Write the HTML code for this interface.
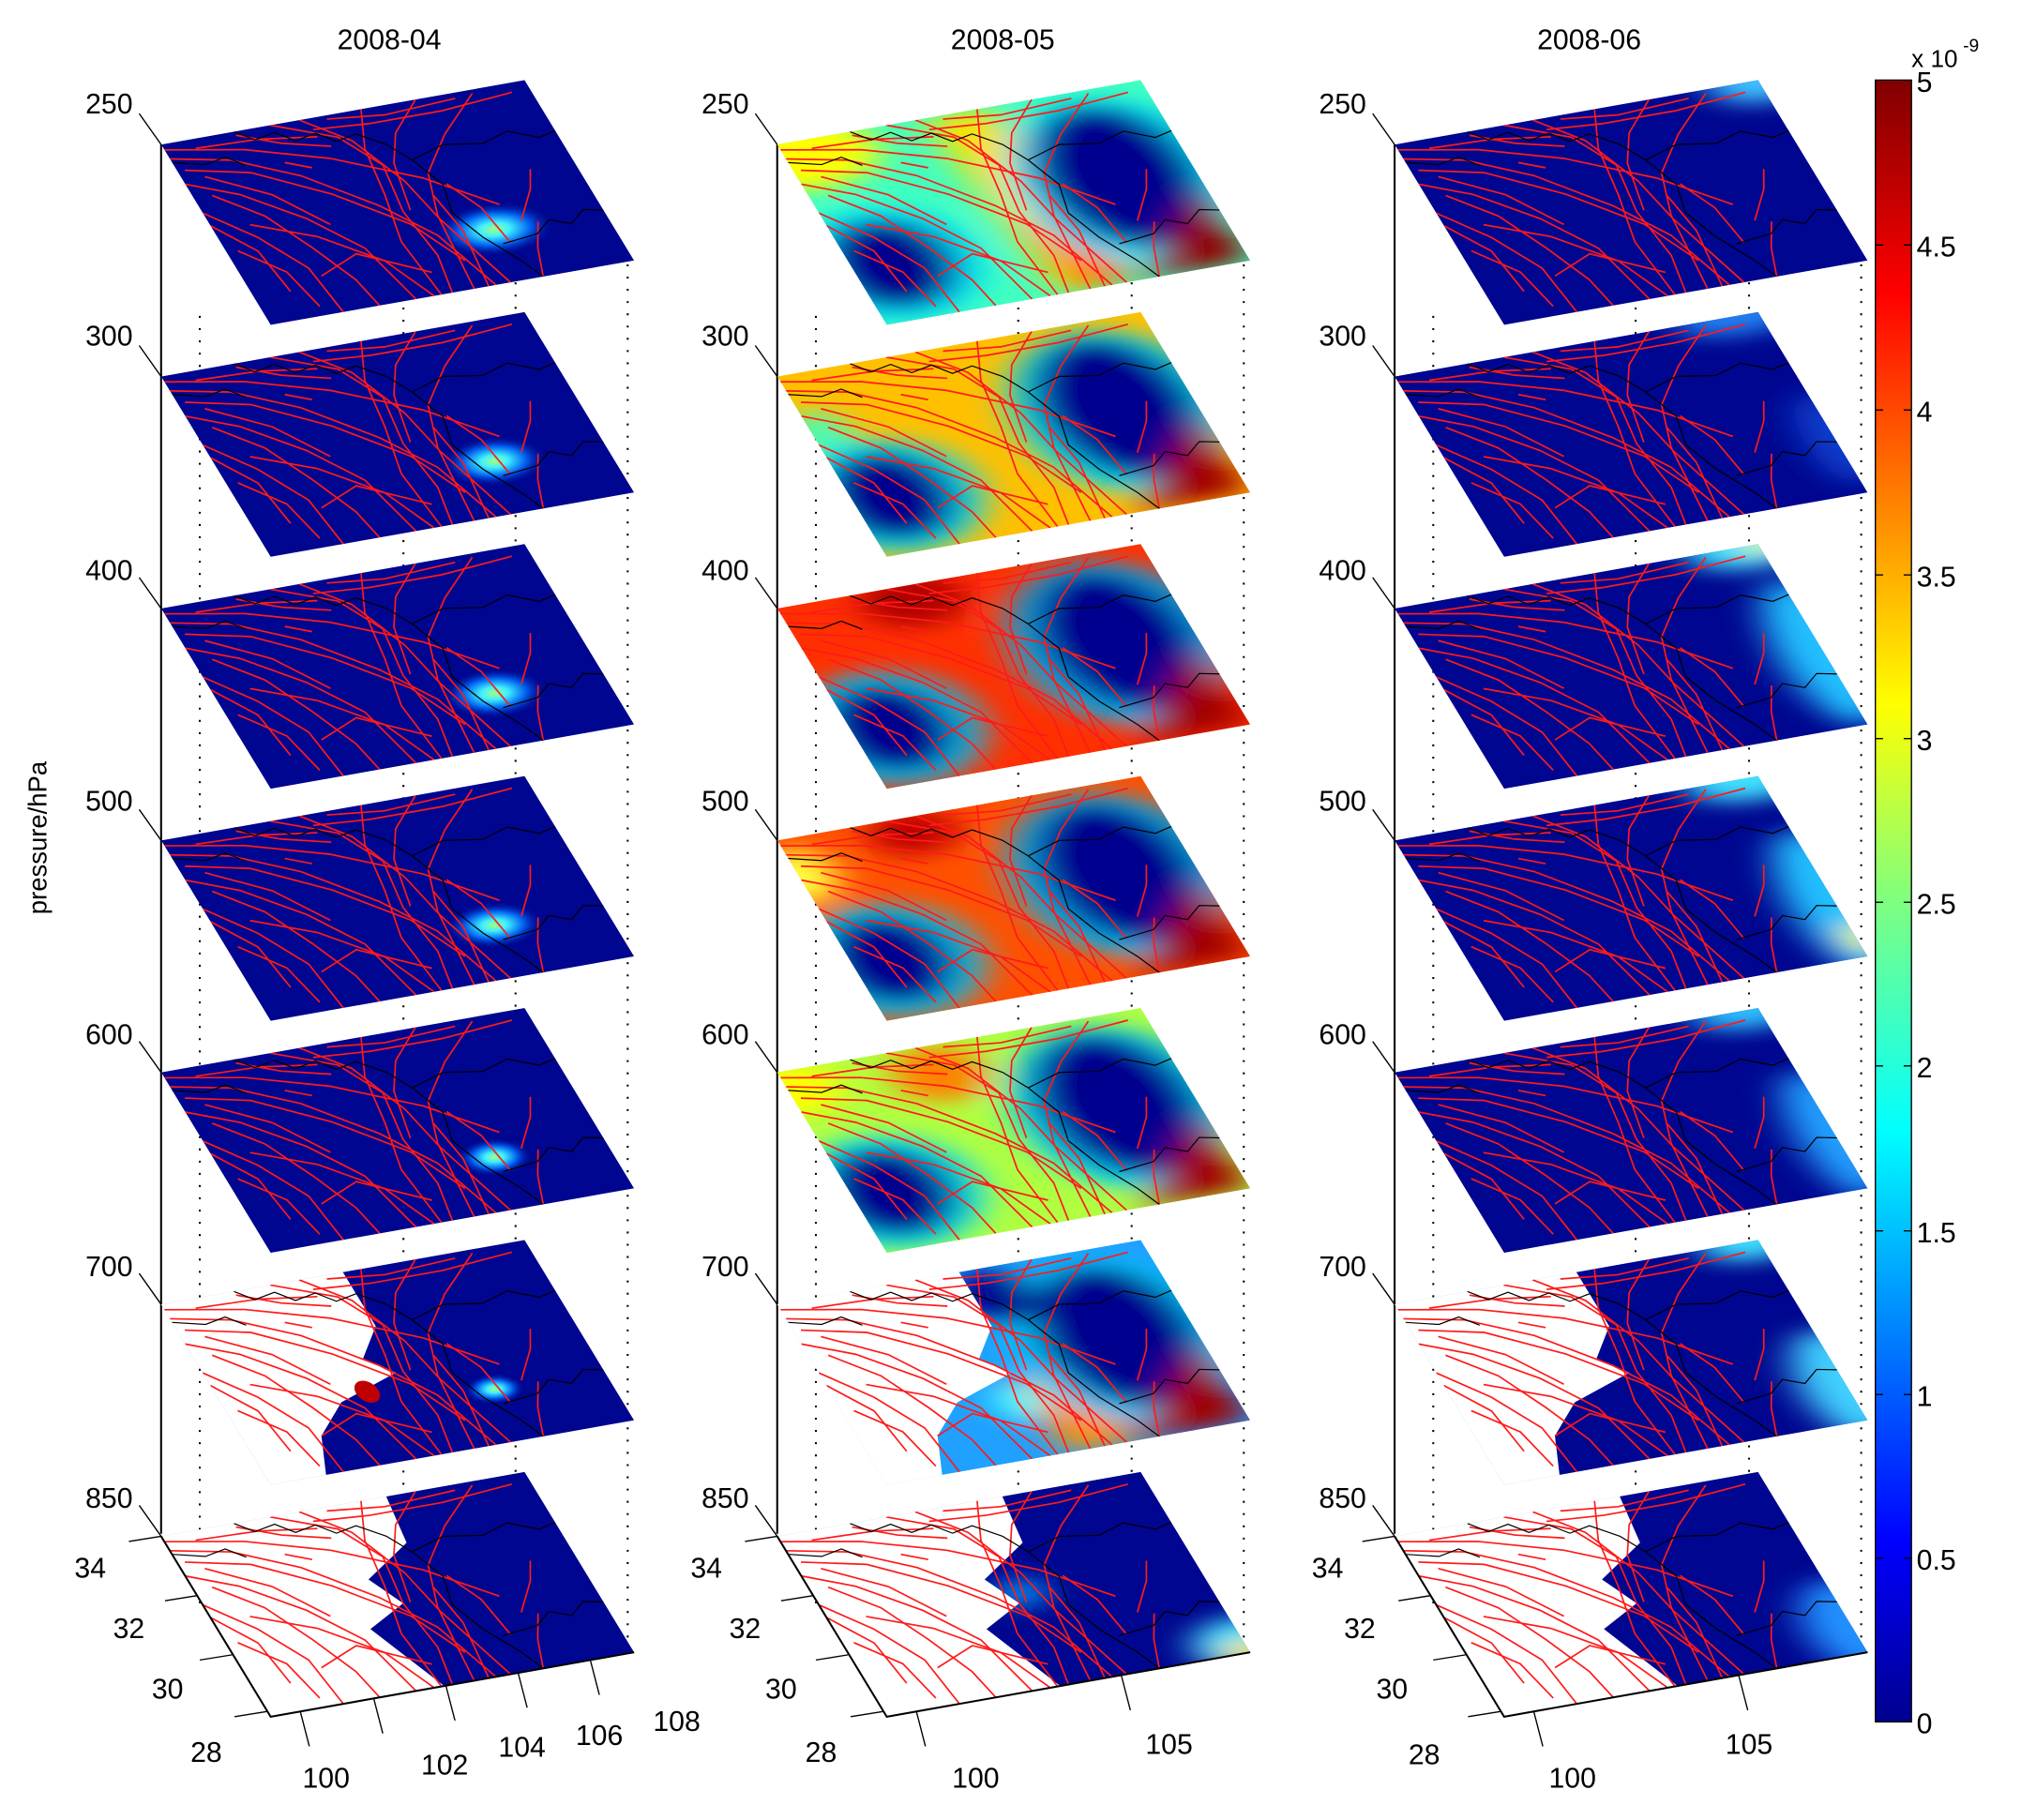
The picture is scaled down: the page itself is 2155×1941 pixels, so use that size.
<!DOCTYPE html>
<html><head><meta charset="utf-8"><style>
html,body{margin:0;padding:0;background:#fff;}
svg{display:block;}
text{font-family:"Liberation Sans",sans-serif;fill:#000;}
</style></head><body>
<svg width="2155" height="1941" viewBox="0 0 1568 1412" xmlns="http://www.w3.org/2000/svg">
<defs>
<linearGradient id="jet" x1="0" y1="1" x2="0" y2="0">
<stop offset="0" stop-color="#00008f"/><stop offset="0.11" stop-color="#0000ff"/>
<stop offset="0.36" stop-color="#00ffff"/><stop offset="0.5" stop-color="#7fff80"/>
<stop offset="0.62" stop-color="#ffff00"/><stop offset="0.87" stop-color="#ff0000"/>
<stop offset="1" stop-color="#800000"/></linearGradient>
<radialGradient id="spot"><stop offset="0" stop-color="#a0ff80"/><stop offset="0.25" stop-color="#40f0ff"/><stop offset="0.6" stop-color="#0060f0"/><stop offset="1" stop-color="#00068f" stop-opacity="0"/></radialGradient>
<clipPath id="sq"><rect x="0" y="0" width="100" height="100"/></clipPath>
<filter id="bl" x="-50%" y="-50%" width="200%" height="200%"><feGaussianBlur stdDeviation="5"/></filter>
<g id="faults" fill="none" stroke="#ff1a1a" stroke-width="1.7">
<polyline vector-effect="non-scaling-stroke" points="0,3 20,10 40,22 60,40 75,60"/>
<polyline vector-effect="non-scaling-stroke" points="0,8 15,14 30,28 45,50 55,70 62,100"/>
<polyline vector-effect="non-scaling-stroke" points="2,15 18,22 35,40 50,62 58,85"/>
<polyline vector-effect="non-scaling-stroke" points="0,22 12,32 25,50 35,70 40,100"/>
<polyline vector-effect="non-scaling-stroke" points="5,30 15,45 22,65 28,85 30,100"/>
<polyline vector-effect="non-scaling-stroke" points="0,38 10,55 18,75 20,100"/>
<polyline vector-effect="non-scaling-stroke" points="8,5 25,6 40,10"/>
<polyline vector-effect="non-scaling-stroke" points="10,48 25,60 38,78 45,100"/>
<polyline vector-effect="non-scaling-stroke" points="3,60 12,75 15,95"/>
<polyline vector-effect="non-scaling-stroke" points="20,80 32,72 48,88"/>
<polyline vector-effect="non-scaling-stroke" points="30,0 45,12 52,30 50,55 52,80 50,100"/>
<polyline vector-effect="non-scaling-stroke" points="38,0 48,15 55,40 58,62 66,100"/>
<polyline vector-effect="non-scaling-stroke" points="55,0 50,20 48,45 45,70 47,100"/>
<polyline vector-effect="non-scaling-stroke" points="70,0 60,15 55,30 52,55"/>
<polyline vector-effect="non-scaling-stroke" points="85,2 72,20 62,38 58,60 56,100"/>
<polyline vector-effect="non-scaling-stroke" points="45,2 60,5 80,3"/>
<polyline vector-effect="non-scaling-stroke" points="40,6 55,8 75,8 95,5"/>
<polyline vector-effect="non-scaling-stroke" points="60,50 62,70 60,100"/>
<polyline vector-effect="non-scaling-stroke" points="65,45 70,60 72,80"/>
<polyline vector-effect="non-scaling-stroke" points="78,70 85,55 88,45"/>
<polyline vector-effect="non-scaling-stroke" points="75,100 78,85 82,72"/>
<polyline vector-effect="non-scaling-stroke" points="28,20 34,25"/>
<polyline vector-effect="non-scaling-stroke" points="20,2 30,10 42,16"/>
<polyline vector-effect="non-scaling-stroke" points="0,45 8,62 10,85"/>
<polyline vector-effect="non-scaling-stroke" points="6,20 20,35 30,55"/>
</g>
<g id="borders" fill="none" stroke="#000" stroke-width="1.2">
<polyline vector-effect="non-scaling-stroke" points="20,0 24,6 30,4 34,10 40,8 44,14 50,12 56,20 60,30 64,45 62,60 66,75 72,90 75,100"/>
<polyline vector-effect="non-scaling-stroke" points="60,30 70,25 80,28 88,24 95,30 100,28"/>
<polyline vector-effect="non-scaling-stroke" points="70,80 80,78 85,72 90,76 95,70 100,72"/>
<polyline vector-effect="non-scaling-stroke" points="0,10 8,14 14,12 18,18"/>
</g>
<g id="w700"><polygon fill="#fff" points="-1,-1 50,-1 50,30 42,45 48,55 30,65 20,80 15,101 -1,101"/></g>
<g id="w850"><polygon fill="#fff" points="-1,-1 62,-1 60,25 45,40 50,55 38,65 48,101 -1,101"/></g>
</defs>

<text x="302" y="38" font-size="22" text-anchor="middle">2008-04</text>
<text x="778" y="38" font-size="22" text-anchor="middle">2008-05</text>
<text x="1233" y="38" font-size="22" text-anchor="middle">2008-06</text>
<text transform="translate(36,650) rotate(-90)" font-size="20" text-anchor="middle">pressure/hPa</text>

<g stroke="#000" fill="none">
<line x1="125" y1="112" x2="125" y2="1190" stroke-width="1.5"/>
<line x1="603" y1="112" x2="603" y2="1190" stroke-width="1.5"/>
<line x1="1082" y1="112" x2="1082" y2="1190" stroke-width="1.5"/>
<g stroke-dasharray="1.5 8" stroke-width="1.5">
<line x1="155" y1="245" x2="155" y2="1250"/><line x1="313" y1="210" x2="313" y2="1280"/><line x1="400" y1="200" x2="400" y2="1290"/><line x1="487" y1="205" x2="487" y2="1282"/>
<line x1="633" y1="245" x2="633" y2="1250"/><line x1="790" y1="210" x2="790" y2="1280"/><line x1="878" y1="200" x2="878" y2="1290"/><line x1="965" y1="205" x2="965" y2="1282"/>
<line x1="1112" y1="245" x2="1112" y2="1250"/><line x1="1269" y1="210" x2="1269" y2="1280"/><line x1="1357" y1="200" x2="1357" y2="1290"/><line x1="1444" y1="205" x2="1444" y2="1282"/>
</g></g>

<g font-size="22" text-anchor="end">
<text x="103" y="88">250</text><text x="103" y="268">300</text><text x="103" y="450">400</text><text x="103" y="629">500</text><text x="103" y="810">600</text><text x="103" y="990">700</text><text x="103" y="1170">850</text>
<text x="581" y="88">250</text><text x="581" y="268">300</text><text x="581" y="450">400</text><text x="581" y="629">500</text><text x="581" y="810">600</text><text x="581" y="990">700</text><text x="581" y="1170">850</text>
<text x="1060" y="88">250</text><text x="1060" y="268">300</text><text x="1060" y="450">400</text><text x="1060" y="629">500</text><text x="1060" y="810">600</text><text x="1060" y="990">700</text><text x="1060" y="1170">850</text>
</g>
<g stroke="#000" stroke-width="1">
<line x1="108" y1="88" x2="125" y2="112"/><line x1="108" y1="268" x2="125" y2="292"/><line x1="108" y1="448" x2="125" y2="472"/><line x1="108" y1="628" x2="125" y2="652"/><line x1="108" y1="808" x2="125" y2="832"/><line x1="108" y1="988" x2="125" y2="1012"/><line x1="108" y1="1168" x2="125" y2="1192"/>
<line x1="586" y1="88" x2="603" y2="112"/><line x1="586" y1="268" x2="603" y2="292"/><line x1="586" y1="448" x2="603" y2="472"/><line x1="586" y1="628" x2="603" y2="652"/><line x1="586" y1="808" x2="603" y2="832"/><line x1="586" y1="988" x2="603" y2="1012"/><line x1="586" y1="1168" x2="603" y2="1192"/>
<line x1="1065" y1="88" x2="1082" y2="112"/><line x1="1065" y1="268" x2="1082" y2="292"/><line x1="1065" y1="448" x2="1082" y2="472"/><line x1="1065" y1="628" x2="1082" y2="652"/><line x1="1065" y1="808" x2="1082" y2="832"/><line x1="1065" y1="988" x2="1082" y2="1012"/><line x1="1065" y1="1168" x2="1082" y2="1192"/>
</g>

<!-- COLUMN 1 -->
<g transform="matrix(2.82 -0.5 0.85 1.4 125 112)"><g clip-path="url(#sq)"><rect width="100" height="100" fill="#00068f"/><ellipse cx="70" cy="72" rx="16" ry="14" fill="url(#spot)"/><use href="#faults"/><use href="#borders"/></g></g>
<g transform="matrix(2.82 -0.5 0.85 1.4 125 292)"><g clip-path="url(#sq)"><rect width="100" height="100" fill="#00068f"/><ellipse cx="70" cy="72" rx="14" ry="13" fill="url(#spot)"/><use href="#faults"/><use href="#borders"/></g></g>
<g transform="matrix(2.82 -0.5 0.85 1.4 125 472)"><g clip-path="url(#sq)"><rect width="100" height="100" fill="#00068f"/><ellipse cx="70" cy="72" rx="14" ry="13" fill="url(#spot)"/><use href="#faults"/><use href="#borders"/></g></g>
<g transform="matrix(2.82 -0.5 0.85 1.4 125 652)"><g clip-path="url(#sq)"><rect width="100" height="100" fill="#00068f"/><ellipse cx="70" cy="72" rx="13" ry="12" fill="url(#spot)"/><use href="#faults"/><use href="#borders"/></g></g>
<g transform="matrix(2.82 -0.5 0.85 1.4 125 832)"><g clip-path="url(#sq)"><rect width="100" height="100" fill="#00068f"/><ellipse cx="70" cy="72" rx="10" ry="10" fill="url(#spot)"/><use href="#faults"/><use href="#borders"/></g></g>
<g transform="matrix(2.82 -0.5 0.85 1.4 125 1012)"><g clip-path="url(#sq)"><rect width="100" height="100" fill="#00068f"/><ellipse cx="70" cy="72" rx="8" ry="8" fill="url(#spot)"/><use href="#w700"/><ellipse cx="38" cy="62" rx="3" ry="6" fill="#c00000"/><use href="#faults"/><use href="#borders"/></g></g>
<g transform="matrix(2.82 -0.5 0.85 1.4 125 1192)"><g clip-path="url(#sq)"><rect width="100" height="100" fill="#00068f"/><use href="#w850"/><use href="#faults"/><use href="#borders"/></g></g>

<!-- COLUMN 2 -->
<g transform="matrix(2.82 -0.5 0.85 1.4 603 112)"><g clip-path="url(#sq)"><rect width="100" height="100" fill="#40ffc0"/>
<g filter="url(#bl)"><ellipse cx="5" cy="8" rx="20" ry="18" fill="#ffff00"/><polygon points="40,0 58,0 68,100 48,100" fill="#ffe000"/><polygon points="50,60 64,60 68,100 52,100" fill="#ff8000"/><ellipse cx="10" cy="70" rx="24" ry="30" fill="#00e0ff"/><ellipse cx="80" cy="48" rx="28" ry="44" fill="#00e0ff"/><ellipse cx="10" cy="70" rx="17" ry="24" fill="#00068f"/><ellipse cx="80" cy="46" rx="21" ry="38" fill="#00068f"/><polygon points="70,100 100,58 100,100" fill="#900000"/></g>
<use href="#faults"/><use href="#borders"/></g></g>
<g transform="matrix(2.82 -0.5 0.85 1.4 603 292)"><g clip-path="url(#sq)"><rect width="100" height="100" fill="#ffc000"/>
<g filter="url(#bl)"><ellipse cx="2" cy="35" rx="8" ry="15" fill="#40ffc0"/><ellipse cx="10" cy="70" rx="24" ry="30" fill="#00e0ff"/><ellipse cx="80" cy="48" rx="28" ry="44" fill="#00e0ff"/><ellipse cx="10" cy="70" rx="17" ry="24" fill="#00068f"/><ellipse cx="80" cy="46" rx="21" ry="38" fill="#00068f"/><polygon points="68,100 100,55 100,100" fill="#a00000"/></g>
<use href="#faults"/><use href="#borders"/></g></g>
<g transform="matrix(2.82 -0.5 0.85 1.4 603 472)"><g clip-path="url(#sq)"><rect width="100" height="100" fill="#ff3000"/>
<g filter="url(#bl)"><ellipse cx="35" cy="8" rx="14" ry="14" fill="#b00000"/><ellipse cx="10" cy="70" rx="24" ry="30" fill="#00d0ff"/><ellipse cx="80" cy="48" rx="28" ry="44" fill="#00c0ff"/><ellipse cx="10" cy="70" rx="17" ry="24" fill="#00068f"/><ellipse cx="80" cy="46" rx="21" ry="38" fill="#00068f"/><polygon points="68,100 100,55 100,100" fill="#a00000"/></g>
<use href="#faults"/><use href="#borders"/></g></g>
<g transform="matrix(2.82 -0.5 0.85 1.4 603 652)"><g clip-path="url(#sq)"><rect width="100" height="100" fill="#ff5000"/>
<g filter="url(#bl)"><ellipse cx="0" cy="20" rx="10" ry="15" fill="#ffff40"/><ellipse cx="35" cy="8" rx="12" ry="12" fill="#c00000"/><ellipse cx="10" cy="70" rx="24" ry="30" fill="#00d0ff"/><ellipse cx="80" cy="48" rx="28" ry="44" fill="#00c0ff"/><ellipse cx="10" cy="70" rx="17" ry="24" fill="#00068f"/><ellipse cx="80" cy="46" rx="21" ry="38" fill="#00068f"/><polygon points="68,100 100,55 100,100" fill="#a00000"/></g>
<use href="#faults"/><use href="#borders"/></g></g>
<g transform="matrix(2.82 -0.5 0.85 1.4 603 832)"><g clip-path="url(#sq)"><rect width="100" height="100" fill="#b0ff40"/>
<g filter="url(#bl)"><ellipse cx="0" cy="10" rx="14" ry="14" fill="#ffff00"/><ellipse cx="40" cy="15" rx="12" ry="15" fill="#ff8000"/><ellipse cx="10" cy="70" rx="24" ry="30" fill="#00e0ff"/><ellipse cx="80" cy="48" rx="28" ry="44" fill="#00d0ff"/><ellipse cx="10" cy="70" rx="17" ry="24" fill="#00068f"/><ellipse cx="80" cy="46" rx="21" ry="38" fill="#00068f"/><polygon points="70,100 100,58 100,100" fill="#a00000"/></g>
<use href="#faults"/><use href="#borders"/></g></g>
<g transform="matrix(2.82 -0.5 0.85 1.4 603 1012)"><g clip-path="url(#sq)"><rect width="100" height="100" fill="#20a0ff"/>
<g filter="url(#bl)"><polygon points="45,60 62,55 70,100 50,100" fill="#ff9000"/><ellipse cx="45" cy="70" rx="6" ry="10" fill="#40ffff"/><ellipse cx="80" cy="48" rx="28" ry="44" fill="#00d0ff"/><ellipse cx="80" cy="46" rx="21" ry="38" fill="#00068f"/><ellipse cx="55" cy="15" rx="10" ry="15" fill="#00068f"/><polygon points="68,100 100,55 100,100" fill="#a00000"/></g>
<use href="#w700"/><use href="#faults"/><use href="#borders"/></g></g>
<g transform="matrix(2.82 -0.5 0.85 1.4 603 1192)"><g clip-path="url(#sq)"><rect width="100" height="100" fill="#00068f"/>
<g filter="url(#bl)"><ellipse cx="52" cy="50" rx="6" ry="8" fill="#00a0ff"/><ellipse cx="100" cy="95" rx="14" ry="14" fill="#40e0ff"/><ellipse cx="100" cy="100" rx="7" ry="7" fill="#ffe000"/></g>
<use href="#w850"/><use href="#faults"/><use href="#borders"/></g></g>

<!-- COLUMN 3 -->
<g transform="matrix(2.82 -0.5 0.85 1.4 1082 112)"><g clip-path="url(#sq)"><rect width="100" height="100" fill="#00068f"/><g filter="url(#bl)"><ellipse cx="100" cy="0" rx="14" ry="12" fill="#40c0ff"/></g><use href="#faults"/><use href="#borders"/></g></g>
<g transform="matrix(2.82 -0.5 0.85 1.4 1082 292)"><g clip-path="url(#sq)"><rect width="100" height="100" fill="#00068f"/><g filter="url(#bl)"><ellipse cx="95" cy="0" rx="18" ry="10" fill="#2080f0"/><ellipse cx="100" cy="70" rx="8" ry="25" fill="#1040d0"/></g><use href="#faults"/><use href="#borders"/></g></g>
<g transform="matrix(2.82 -0.5 0.85 1.4 1082 472)"><g clip-path="url(#sq)"><rect width="100" height="100" fill="#00068f"/><g filter="url(#bl)"><ellipse cx="98" cy="0" rx="18" ry="12" fill="#40e0ff"/><ellipse cx="100" cy="60" rx="12" ry="40" fill="#20c0ff"/><ellipse cx="102" cy="0" rx="6" ry="5" fill="#ffff40"/></g><use href="#faults"/><use href="#borders"/></g></g>
<g transform="matrix(2.82 -0.5 0.85 1.4 1082 652)"><g clip-path="url(#sq)"><rect width="100" height="100" fill="#00068f"/><g filter="url(#bl)"><ellipse cx="98" cy="0" rx="18" ry="12" fill="#40e0ff"/><ellipse cx="100" cy="70" rx="12" ry="40" fill="#20c0ff"/><ellipse cx="102" cy="90" rx="5" ry="8" fill="#ffff40"/></g><use href="#faults"/><use href="#borders"/></g></g>
<g transform="matrix(2.82 -0.5 0.85 1.4 1082 832)"><g clip-path="url(#sq)"><rect width="100" height="100" fill="#00068f"/><g filter="url(#bl)"><ellipse cx="98" cy="0" rx="16" ry="10" fill="#30c0ff"/><ellipse cx="100" cy="70" rx="10" ry="35" fill="#20a0ff"/></g><use href="#faults"/><use href="#borders"/></g></g>
<g transform="matrix(2.82 -0.5 0.85 1.4 1082 1012)"><g clip-path="url(#sq)"><rect width="100" height="100" fill="#00068f"/><g filter="url(#bl)"><ellipse cx="98" cy="0" rx="14" ry="10" fill="#40e0ff"/><ellipse cx="100" cy="80" rx="12" ry="30" fill="#40d0ff"/></g><use href="#w700"/><use href="#faults"/><use href="#borders"/></g></g>
<g transform="matrix(2.82 -0.5 0.85 1.4 1082 1192)"><g clip-path="url(#sq)"><rect width="100" height="100" fill="#00068f"/><g filter="url(#bl)"><ellipse cx="100" cy="85" rx="12" ry="25" fill="#2090ff"/></g><use href="#w850"/><use href="#faults"/><use href="#borders"/></g></g>

<g stroke="#000" stroke-width="1.5" fill="none">
<polyline points="125,1192 210,1332 492,1282"/>
<polyline points="603,1192 688,1332 970,1282"/>
<polyline points="1082,1192 1167,1332 1449,1282"/>
</g>
<g stroke="#000" stroke-width="1">
<line x1="125" y1="1192" x2="100" y2="1196"/><line x1="153" y1="1238" x2="128" y2="1242"/><line x1="180" y1="1284" x2="155" y2="1288"/><line x1="207" y1="1328" x2="182" y2="1332"/>
<line x1="233" y1="1328" x2="240" y2="1355"/><line x1="290" y1="1318" x2="297" y2="1345"/><line x1="346" y1="1308" x2="353" y2="1335"/><line x1="402" y1="1298" x2="409" y2="1325"/><line x1="458" y1="1288" x2="465" y2="1315"/>
<line x1="603" y1="1192" x2="578" y2="1196"/><line x1="631" y1="1238" x2="606" y2="1242"/><line x1="658" y1="1284" x2="633" y2="1288"/><line x1="685" y1="1328" x2="660" y2="1332"/>
<line x1="711" y1="1328" x2="718" y2="1355"/><line x1="870" y1="1300" x2="877" y2="1327"/>
<line x1="1082" y1="1192" x2="1057" y2="1196"/><line x1="1110" y1="1238" x2="1085" y2="1242"/><line x1="1137" y1="1284" x2="1112" y2="1288"/><line x1="1164" y1="1328" x2="1139" y2="1332"/>
<line x1="1190" y1="1328" x2="1197" y2="1355"/><line x1="1349" y1="1300" x2="1356" y2="1327"/>
</g>
<g font-size="22" text-anchor="middle">
<text x="70" y="1224">34</text><text x="100" y="1271">32</text><text x="130" y="1318">30</text><text x="160" y="1367">28</text>
<text x="253" y="1387">100</text><text x="345" y="1377">102</text><text x="405" y="1363">104</text><text x="465" y="1354">106</text><text x="525" y="1343">108</text>
<text x="548" y="1224">34</text><text x="578" y="1271">32</text><text x="606" y="1318">30</text><text x="637" y="1367">28</text>
<text x="757" y="1387">100</text><text x="907" y="1361">105</text>
<text x="1030" y="1224">34</text><text x="1055" y="1271">32</text><text x="1080" y="1318">30</text><text x="1105" y="1369">28</text>
<text x="1220" y="1387">100</text><text x="1357" y="1361">105</text>
</g>

<rect x="1455" y="62" width="28" height="1274" fill="url(#jet)" stroke="#000" stroke-width="1"/>
<g stroke="#000" stroke-width="1">
<line x1="1455" y1="190" x2="1461" y2="190"/><line x1="1477" y1="190" x2="1483" y2="190"/>
<line x1="1455" y1="318" x2="1461" y2="318"/><line x1="1477" y1="318" x2="1483" y2="318"/>
<line x1="1455" y1="446" x2="1461" y2="446"/><line x1="1477" y1="446" x2="1483" y2="446"/>
<line x1="1455" y1="573" x2="1461" y2="573"/><line x1="1477" y1="573" x2="1483" y2="573"/>
<line x1="1455" y1="700" x2="1461" y2="700"/><line x1="1477" y1="700" x2="1483" y2="700"/>
<line x1="1455" y1="827" x2="1461" y2="827"/><line x1="1477" y1="827" x2="1483" y2="827"/>
<line x1="1455" y1="955" x2="1461" y2="955"/><line x1="1477" y1="955" x2="1483" y2="955"/>
<line x1="1455" y1="1082" x2="1461" y2="1082"/><line x1="1477" y1="1082" x2="1483" y2="1082"/>
<line x1="1455" y1="1209" x2="1461" y2="1209"/><line x1="1477" y1="1209" x2="1483" y2="1209"/>
</g>
<g font-size="22">
<text x="1487" y="71">5</text><text x="1487" y="199">4.5</text><text x="1487" y="327">4</text><text x="1487" y="455">3.5</text><text x="1487" y="582">3</text><text x="1487" y="709">2.5</text><text x="1487" y="836">2</text><text x="1487" y="964">1.5</text><text x="1487" y="1091">1</text><text x="1487" y="1218">0.5</text><text x="1487" y="1345">0</text>
<text x="1483" y="52" font-size="19">x 10</text><text x="1523" y="40" font-size="14">-9</text>
</g>
</svg>
</body></html>
